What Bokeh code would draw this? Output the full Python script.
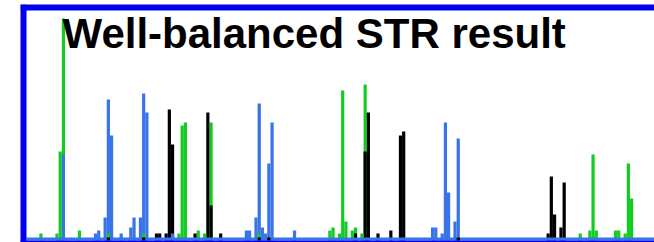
import numpy as np
from bokeh.plotting import figure
from bokeh.models import ColumnDataSource, Range1d, Label
from bokeh.embed import file_html
from bokeh.resources import INLINE

title_text = "Well-balanced STR result"
n_bins = 196
baseline_height = 3

green_bins = [4, 9, 10, 11, 16, 25, 36, 47, 48, 49, 53, 55, 57, 72, 94, 95, 97, 98, 99, 101,
              102, 104, 105, 172, 175, 176, 177, 183, 184, 186, 187, 188]
green_vals = [7, 7, 89, 222, 10, 7, 7, 7, 115, 118, 10, 7, 118, 7, 10, 13, 7, 150, 19, 10,
              13, 7, 156, 7, 10, 86, 10, 10, 10, 7, 77, 42]
blue_bins = [11, 21, 22, 24, 25, 26, 29, 32, 33, 35, 36, 37, 45, 68, 69, 71, 72, 73, 74, 75,
             76, 83, 126, 127, 129, 130, 131, 133, 134]
blue_vals = [86, 7, 10, 23, 141, 105, 7, 13, 23, 23, 147, 128, 7, 10, 10, 23, 137, 13, 7, 77,
             118, 10, 13, 13, 7, 118, 48, 19, 102]
black_bins = [40, 41, 43, 44, 45, 52, 56, 57, 60, 102, 105, 106, 109, 113, 116, 117, 162, 163,
              164, 166, 167]
black_vals = [7, 7, 7, 131, 96, 7, 128, 35, 7, 7, 89, 128, 7, 10, 105, 109, 7, 64, 26, 13, 58]
call_bins = [25, 36, 72, 75, 134]

GREEN = "#12cc22"
BLUE = "#3873e8"
BLACK = "#000000"
FRAME = "#0000f5"

px_per_bin = 3.21
x_start = -6 / px_per_bin
x_end = x_start + 634 / px_per_bin
y_start, y_end = -2, 236

p = figure(width=654, height=242, output_backend="svg", toolbar_location=None,
           x_range=Range1d(x_start, x_end), y_range=Range1d(y_start, y_end),
           x_axis_location=None, y_axis_location=None,
           min_border_left=20, min_border_right=0, min_border_top=4, min_border_bottom=0)
p.grid.visible = False
p.outline_line_color = None
p.background_fill_color = "white"
p.border_fill_color = "white"

small_limit = 13
series = [(green_bins, green_vals, GREEN), (blue_bins, blue_vals, BLUE), (black_bins, black_vals, BLACK)]

def source(bins, vals, mask):
    b = np.array(bins)[mask]
    v = np.array(vals)[mask]
    return ColumnDataSource(dict(x=b + 0.5, top=v))

for bins, vals, col in series:
    m = np.array(vals) > small_limit
    p.vbar(x="x", top="top", bottom=0, width=1, source=source(bins, vals, m),
           fill_color=col, line_color=None)
for bins, vals, col in series:
    m = np.array(vals) <= small_limit
    p.vbar(x="x", top="top", bottom=0, width=1, source=source(bins, vals, m),
           fill_color=col, line_color=None)

p.quad(left=[0], right=[n_bins], bottom=[0], top=[baseline_height], fill_color=BLUE, line_color=None)
cb = np.array(call_bins)
p.vbar(x=cb + 0.5, top=baseline_height, bottom=0, width=1, fill_color=BLACK, line_color=None)

p.segment(x0=[x_start], y0=[y_start], x1=[x_start], y1=[y_end], line_color=FRAME, line_width=12)
p.segment(x0=[x_start], y0=[y_end], x1=[x_end], y1=[y_end], line_color=FRAME, line_width=12)
p.segment(x0=[x_start], y0=[y_start], x1=[x_end], y1=[y_start], line_color=FRAME, line_width=4)

p.add_layout(Label(x=(62 - 26) / px_per_bin, y=207, text=title_text,
                   text_font="Liberation Sans", text_font_style="bold",
                   text_font_size="42px", text_color="black",
                   text_align="left", text_baseline="alphabetic"))

open("out.html", "w").write(file_html(p, INLINE))
